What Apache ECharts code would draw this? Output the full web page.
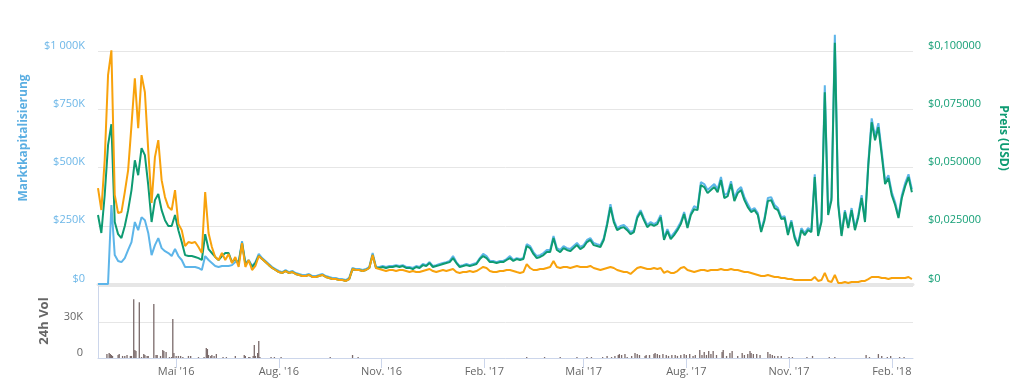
<!DOCTYPE html>
<html><head><meta charset="utf-8">
<script src="https://cdn.jsdelivr.net/npm/echarts@6/dist/echarts.min.js"></script>
<style>html,body{margin:0;padding:0;background:#fff}#c{width:1017px;height:390px}</style>
</head><body><div id="c"></div>
<script>
// ---- data ----
const startDate = '2016-02-21';   // first sample
const stepDays = 3;               // sample spacing of the line series
const spanDays = 730;             // visible range

// Market cap, thousands of USD
const marketCapK = [
0,0,0,0,339,124,99,94,111,146,
180,266,231,287,274,219,124,167,197,154,
141,133,120,150,120,103,73,73,73,73,
69,60,120,103,90,77,73,77,77,77,
81,94,94,184,90,103,77,94,129,111,
99,86,73,64,56,51,60,51,56,47,
43,39,39,43,34,34,39,43,34,30,
26,26,21,21,17,26,69,64,64,60,
64,73,133,73,73,77,73,77,77,81,
77,81,73,73,69,77,73,86,81,94,
77,81,86,90,94,99,120,94,77,81,
86,81,86,90,111,129,120,99,99,94,
99,99,107,120,103,111,107,111,171,163,
137,120,124,133,146,146,206,154,146,163,
154,150,163,176,159,167,189,197,176,171,
167,197,261,343,274,240,249,253,240,223,
231,291,317,283,253,266,257,266,296,197,
236,201,219,240,266,309,249,304,334,326,
437,429,403,416,429,407,459,381,390,441,
369,403,416,373,343,317,326,304,231,283,
369,373,339,326,287,291,219,274,206,171,
240,219,240,231,471,214,274,853,304,373,
1070,351,214,317,249,326,240,296,381,274,
523,711,634,690,570,441,467,394,351,291,
381,433,471,407
];

// Price in USD
const priceUsd = [
0.0296,0.0219,0.0381,0.0596,0.0686,0.0266,0.0214,0.0197,0.0249,0.0317,
0.0403,0.0531,0.0467,0.0583,0.0553,0.0424,0.0266,0.0360,0.0386,0.0317,
0.0274,0.0249,0.0249,0.0296,0.0231,0.0180,0.0124,0.0120,0.0120,0.0116,
0.0111,0.0103,0.0214,0.0150,0.0133,0.0116,0.0103,0.0120,0.0133,0.0133,
0.0094,0.0107,0.0090,0.0176,0.0086,0.0099,0.0073,0.0090,0.0120,0.0107,
0.0094,0.0081,0.0069,0.0060,0.0051,0.0047,0.0056,0.0047,0.0051,0.0043,
0.0039,0.0034,0.0034,0.0039,0.0030,0.0030,0.0034,0.0039,0.0030,0.0026,
0.0021,0.0021,0.0017,0.0017,0.0013,0.0021,0.0064,0.0060,0.0060,0.0056,
0.0060,0.0069,0.0124,0.0069,0.0069,0.0073,0.0069,0.0073,0.0073,0.0077,
0.0073,0.0077,0.0069,0.0069,0.0064,0.0073,0.0069,0.0081,0.0077,0.0090,
0.0073,0.0077,0.0081,0.0086,0.0090,0.0094,0.0111,0.0090,0.0073,0.0077,
0.0081,0.0077,0.0081,0.0086,0.0107,0.0120,0.0111,0.0094,0.0094,0.0090,
0.0094,0.0094,0.0103,0.0111,0.0099,0.0107,0.0103,0.0107,0.0163,0.0154,
0.0129,0.0111,0.0116,0.0124,0.0137,0.0137,0.0197,0.0146,0.0137,0.0154,
0.0146,0.0141,0.0154,0.0167,0.0150,0.0159,0.0180,0.0189,0.0167,0.0163,
0.0159,0.0189,0.0253,0.0330,0.0266,0.0231,0.0240,0.0244,0.0231,0.0214,
0.0223,0.0283,0.0309,0.0274,0.0244,0.0257,0.0249,0.0257,0.0287,0.0189,
0.0227,0.0193,0.0210,0.0231,0.0257,0.0300,0.0240,0.0296,0.0321,0.0317,
0.0424,0.0416,0.0390,0.0403,0.0416,0.0394,0.0446,0.0369,0.0377,0.0429,
0.0356,0.0390,0.0403,0.0360,0.0330,0.0309,0.0317,0.0296,0.0223,0.0274,
0.0356,0.0360,0.0326,0.0317,0.0279,0.0283,0.0210,0.0266,0.0197,0.0163,
0.0231,0.0210,0.0231,0.0223,0.0459,0.0206,0.0266,0.0823,0.0296,0.0360,
0.1035,0.0339,0.0206,0.0309,0.0240,0.0317,0.0231,0.0287,0.0369,0.0266,
0.0510,0.0694,0.0617,0.0673,0.0553,0.0429,0.0454,0.0381,0.0339,0.0283,
0.0369,0.0420,0.0459,0.0394
];

// Price in BTC, satoshi
const priceBtcSat = [
6590,5080,8510,14340,16050,6110,4870,4940,6310,7820,
10910,14130,10700,14340,13170,9190,5560,8710,9880,7130,
5970,5280,5080,6450,4120,3700,2610,2880,2810,2880,
2540,2130,6310,3500,2540,1850,1650,2130,1650,2060,
1440,1850,1170,2810,1170,1650,960,1240,1920,1720,
1510,1300,1100,960,820,760,890,760,820,690,
620,550,550,620,480,480,550,620,480,410,
340,340,270,270,210,340,1030,960,960,890,
960,1100,1990,1100,1030,960,890,960,960,890,
960,960,890,820,890,820,820,890,960,1030,
890,820,890,960,890,960,1030,820,760,820,
820,890,820,890,1030,1170,1100,890,820,820,
890,890,960,960,890,820,760,820,1370,1100,
960,960,1030,1030,1100,1170,1580,1170,1100,1170,
1170,1100,1170,1240,1170,1170,1170,1240,1100,1030,
960,1030,1100,1170,1100,960,890,820,820,690,
890,1100,1170,1100,1030,1030,1100,1030,1100,760,
890,760,760,890,1100,1170,960,890,820,890,
960,960,890,960,960,960,1030,960,960,1030,
960,960,890,820,820,760,690,620,550,550,
620,550,480,480,410,410,340,340,270,270,
270,270,270,270,480,210,270,760,210,140,
620,70,70,140,70,140,140,140,210,210,
340,480,480,480,410,410,340,410,410,410,
410,410,480,340
];

// 24h volume: day offset from startDate, value in thousands of USD
const volDays = [8,10,11,12,13,18,19,22,24,26,29,30,32,33,34,37,39,41,42,44,45,50,52,53,56,58,59,61,64,66,67,68,70,72,74,76,81,83,90,95,97,98,99,101,102,104,106,112,115,123,131,132,135,136,139,140,141,143,144,145,155,158,164,208,228,233,
384,400,414,429,438,442,452,456,460,463,466,467,469,472,474,478,481,483,485,490,491,494,498,499,501,503,506,509,511,514,517,519,522,525,527,530,533,535,539,541,543,545,547,549,551,554,559,560,563,566,568,573,577,579,582,584,585,587,590,593,600,602,604,606,609,612,619,622,635,640,655,660,688,691,699,702,707,710,718,722];
const volumeK = [3.3,4.2,3.3,2.5,1.7,2.5,3.3,1.7,1.7,2.5,1.7,1.7,49,6.7,5.8,46.5,0.8,3.3,2.5,1.7,1.7,45,2.5,2.5,1.7,6.7,5.8,5,0.8,0.8,32.5,4.2,1.7,1.7,1.7,0.8,1.7,1.7,0.8,0.8,8.3,7.5,2.5,1.7,2.5,1.7,3.3,0.8,0.8,1.7,2.5,1.7,0.8,0.8,1.7,10.8,1.7,4.2,14.2,0.8,0.8,0.8,0.8,0.8,2.5,0.8,
0.8,0.8,0.8,0.8,0.8,0.8,0.8,1.7,0.8,1.7,2.5,3.3,2.5,3.3,0.8,1.7,4.2,3.3,2.5,1.7,2.5,2.5,3.3,4.2,3.3,2.5,3.3,2.5,1.7,2.5,2.5,1.7,2.5,3.3,2.5,3.3,1.7,2.5,6.7,2.5,5,2.5,5.8,3.3,5.8,2.5,5,6.7,1.7,4.2,5.8,1.7,4.2,2.5,3.3,5.8,4.2,3.3,3.3,2.5,5,3.3,2.5,1.7,1.7,1.7,0.8,0.8,0.8,1.7,0.8,0.8,2.5,0.8,3.3,1.7,0.8,1.7,0.8,0.8];

const tickDates = ['2016-05-01','2016-08-01','2016-11-01','2017-02-01','2017-05-01','2017-08-01','2017-11-01','2018-02-01'];
const tickLabels = ["Mai '16","Aug. '16","Nov. '16","Feb. '17","Mai '17","Aug. '17","Nov. '17","Feb. '18"];

// ---- build ----
function parseTs(s, add){ const p = s.split('-').map(Number); return new Date(p[0], p[1]-1, p[2] + (add||0)).getTime(); }
const tickTs = tickDates.map(s => parseTs(s));
const xMin = parseTs(startDate, 0), xMax = parseTs(startDate, spanDays);
const capData = marketCapK.map((v,i) => [parseTs(startDate, i*stepDays), v]);
const usdData = priceUsd.map((v,i) => [parseTs(startDate, i*stepDays), v]);
const btcData = priceBtcSat.map((v,i) => [parseTs(startDate, i*stepDays), v]);
const volData = volDays.map((d,i) => [parseTs(startDate, d), volumeK[i]]);

const FONT = '"Open Sans", sans-serif';
const chart = echarts.init(document.getElementById('c'), null, {renderer:'canvas'});
chart.setOption({
  animation: false,
  backgroundColor: '#fff',
  grid: [
    {left: 98, right: 104, top: 51, height: 233},
    {left: 98, right: 104, top: 286, height: 72}
  ],
  xAxis: [
    {type:'value', gridIndex:0, min:xMin, max:xMax,
     axisLine:{show:true, onZero:false, lineStyle:{color:'#e6e6e6', width:3}},
     axisTick:{show:false}, axisLabel:{show:false}, splitLine:{show:false}},
    {type:'value', gridIndex:1, min:xMin, max:xMax,
     axisLine:{show:true, onZero:false, lineStyle:{color:'#ccd6eb', width:1}},
     axisTick:{show:true, length:10, lineStyle:{color:'#ccd6eb'}, customValues: tickTs},
     axisLabel:{customValues: tickTs, formatter: v => { const k = tickTs.indexOf(v); return k >= 0 ? tickLabels[k] : ''; },
       color:'#666', fontSize:11, fontFamily:FONT, margin:8},
     splitLine:{show:false}}
  ],
  yAxis: [
    {type:'value', gridIndex:0, min:0, max:1000, interval:250, position:'left',
     axisLine:{show:false}, axisTick:{show:false},
     splitLine:{lineStyle:{color:'#e6e6e6'}},
     axisLabel:{formatter: v => v === 0 ? '$0' : '$' + (v >= 1000 ? Math.floor(v/1000) + ' ' + String(v % 1000).padStart(3,'0') : v) + 'K',
       color:'#6db7e8', fontSize:11, fontFamily:FONT, margin:13, verticalAlign:'bottom'}},
    {type:'value', gridIndex:0, min:0, max:0.1, interval:0.025, position:'right',
     axisLine:{show:false}, axisTick:{show:false}, splitLine:{show:false},
     axisLabel:{formatter: v => v === 0 ? '$0' : '$' + v.toFixed(6).replace('.', ','),
       color:'#16a077', fontSize:11, fontFamily:FONT, margin:15, verticalAlign:'bottom'}},
    {type:'value', gridIndex:0, min:0, max:16000, show:false},
    {type:'value', gridIndex:1, min:0, max:60, interval:30, position:'left',
     axisLine:{show:true, lineStyle:{color:'#ccd6eb'}}, axisTick:{show:false},
     splitLine:{lineStyle:{color:'#e6e6e6'}},
     axisLabel:{formatter: v => v === 0 ? '0' : (v === 60 ? '' : v + 'K'),
       color:'#666', fontSize:11, fontFamily:FONT, margin:15, verticalAlign:'bottom'}}
  ],
  series: [
    {type:'line', name:'Marktkapitalisierung', xAxisIndex:0, yAxisIndex:0, data:capData,
     showSymbol:false, clip:false, lineStyle:{color:'#5db5e9', width:2}, itemStyle:{color:'#5db5e9'}},
    {type:'line', name:'Preis (USD)', xAxisIndex:0, yAxisIndex:1, data:usdData,
     showSymbol:false, clip:false, lineStyle:{color:'#0e9b72', width:2}, itemStyle:{color:'#0e9b72'}},
    {type:'line', name:'Preis (BTC)', xAxisIndex:0, yAxisIndex:2, data:btcData,
     showSymbol:false, clip:false, lineStyle:{color:'#f8a20c', width:2}, itemStyle:{color:'#f8a20c'}},
    {type:'bar', name:'24h Vol', xAxisIndex:1, yAxisIndex:3, data:volData,
     barWidth:1.3, itemStyle:{color:'#7a6a6a'}}
  ],
  graphic: [
    {type:'text', x:24, y:138, rotation:Math.PI/2,
     style:{text:'Marktkapitalisierung', fill:'#5aaee2', font:'bold 12px ' + FONT, align:'center', verticalAlign:'middle'}},
    {type:'text', x:1003, y:138, rotation:-Math.PI/2,
     style:{text:'Preis (USD)', fill:'#0e9b72', font:'bold 12px ' + FONT, align:'center', verticalAlign:'middle'}},
    {type:'text', x:44, y:321, rotation:Math.PI/2,
     style:{text:'24h Vol', fill:'#666', font:'bold 13px ' + FONT, align:'center', verticalAlign:'middle'}}
  ]
});
</script>
</body></html>
